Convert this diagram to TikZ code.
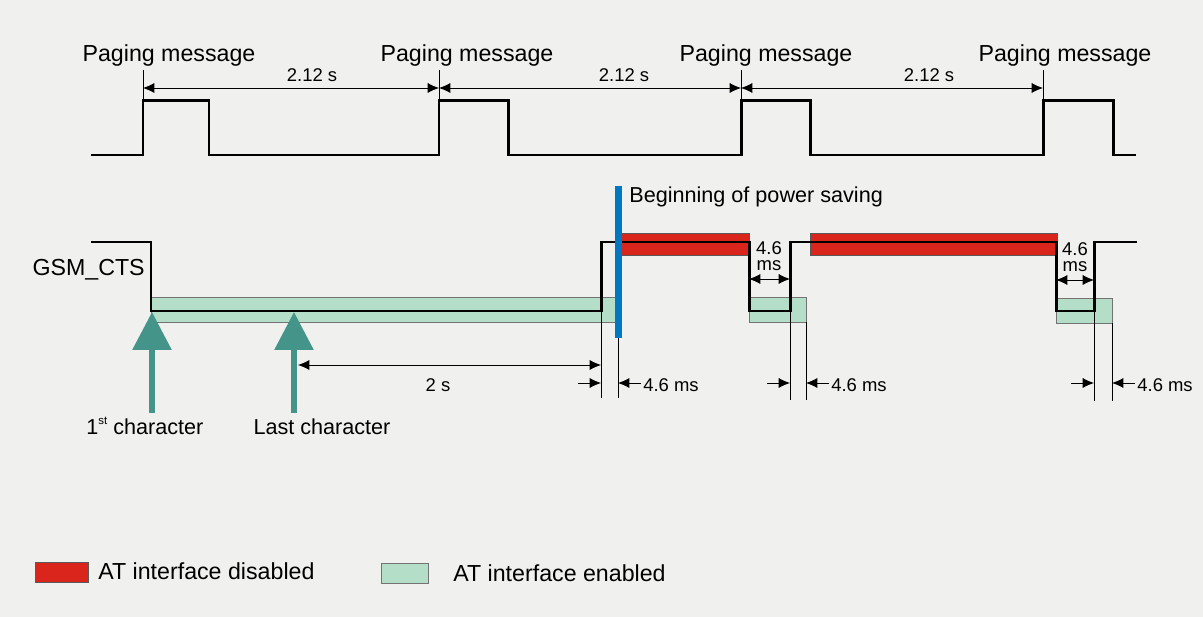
\documentclass[tikz,border=0pt]{standalone}
\usepackage{fontspec}
\setmainfont{Liberation Sans}
\usetikzlibrary{arrows.meta}
\definecolor{bgrey}{HTML}{F0F0EE}
\definecolor{atred}{HTML}{DA251D}
\definecolor{atgreen}{HTML}{B5DEC8}
\definecolor{charteal}{HTML}{45948A}
\definecolor{psblue}{HTML}{0077C0}
\begin{document}
\begin{tikzpicture}[x=0.02cm, y=-0.02cm, >={Latex[length=6.5pt,width=5.8pt]},
  sig/.style={line width=1.7pt, line join=miter},
  thin/.style={line width=0.5pt},
  big/.style={font=\fontsize{13.2}{15}\selectfont, inner sep=0pt},
  mid/.style={font=\fontsize{12.3}{14}\selectfont, inner sep=0pt},
  small/.style={font=\fontsize{10.5}{12}\selectfont, inner sep=0pt},
  gap/.style={font=\fontsize{10.5}{9}\selectfont, inner sep=0pt, align=center},
  enabled/.style={fill=atgreen, draw=black!55, line width=0.5pt},
  disabled/.style={fill=atred, draw=black!65, line width=0.5pt},
  chararrow/.style={draw=charteal, line width=0.12cm, -{Triangle[length=0.76cm,width=0.76cm]}}]
\fill[bgrey] (0,0) rectangle (1203,617);
\useasboundingbox (0,0) rectangle (1203,617);

% paging messages
\draw[sig] (91,155) -| (143,101) -| (209,155) -| (439,101) -| (508,155) -| (741,101) -| (810,155) -| (1043,101) -| (1113,155) -- (1136,155);
\foreach \x/\t [count=\i] in {143/169, 439/467, 741/766, 1043/1065} {
  \draw[thin] (\x,70) -- (\x,101);
  \node[big, anchor=base] (pm\i) at (\t,62) {Paging message};
}
\foreach \a/\b/\t [count=\i] in {143/439/312, 439/741/624, 741/1043/929} {
  \draw[thin,<->] (\a,88) -- (\b,88);
  \node[small, anchor=base] (per\i) at (\t,82) {2.12 s};
}

% GSM_CTS
\filldraw[enabled] (151,297) rectangle (615,322);
\filldraw[enabled] (749,297) rectangle (806,322);
\filldraw[enabled] (1056,298) rectangle (1112,323);
\filldraw[disabled] (619,233) rectangle (749,255);
\filldraw[disabled] (810,233) rectangle (1057,255);
\draw[sig] (91,242) -| (151,311) -| (601,242) -| (749,311) -| (790,242) -| (1056,311) -| (1094,242) -- (1137,242);
\node[big, anchor=base east] (cts) at (145,276) {GSM\_CTS};
\fill[psblue] (615,186) rectangle (622,338);
\node[mid, anchor=base west] (ps) at (629,203) {Beginning of power saving};

% extension lines
\draw[thin] (601,311) -- (601,398);
\draw[thin] (618,338) -- (618,398);
\draw[thin] (790,311) -- (790,400);
\draw[thin] (806,322) -- (806,400);
\draw[thin] (1094,311) -- (1094,401);
\draw[thin] (1112,323) -- (1112,401);

% 4.6 ms
\draw[thin,<->] (749,279) -- (790,279);
\node[gap] (ga) at (769,256) {4.6\\ms};
\draw[thin,<->] (1056,280) -- (1094,280);
\node[gap] (gb) at (1075,257) {4.6\\ms};
\foreach \l/\r [count=\i] in {601/618, 790/806, 1094/1112} {
  \draw[thin,->] (\l-23,383) -- (\l,383);
  \draw[thin,->] (\r+23,383) -- (\r,383);
  \node[small, anchor=base west] (d\i) at (\r+25,392) {4.6 ms};
}
\draw[thin,<->] (298,365) -- (601,365);
\node[small, anchor=base] (two) at (438,392) {2 s};

% characters
\draw[chararrow] (152,413) -- (152,312);
\draw[chararrow] (294,413) -- (294,312);
\node[mid, anchor=base west] (first) at (86,435) {1\raisebox{0.9ex}{\fontsize{6.5}{7}\selectfont st} character};
\node[mid, anchor=base] (last) at (322,435) {Last character};

% legend
\filldraw[disabled] (35,562) rectangle (88,582);
\node[big, anchor=base west] (ld) at (98,580) {AT interface disabled};
\filldraw[enabled] (381,563) rectangle (428,583);
\node[big, anchor=base west] (le) at (453,582) {AT interface enabled};
\end{tikzpicture}
\end{document}
